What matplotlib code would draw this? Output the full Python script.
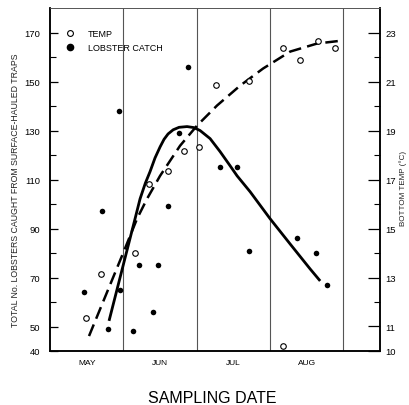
import matplotlib
matplotlib.use("Agg")
import matplotlib.pyplot as plt
from matplotlib.lines import Line2D

plt.rcParams['font.family'] = ['Liberation Sans', 'DejaVu Sans']

# x positions in months from start of May (0 = May 1)
catch_x = [0.464, 0.709, 0.791, 0.941, 0.955, 1.132, 1.214, 1.473, 1.405, 1.610,
           1.760, 1.883, 2.319, 2.551, 2.715, 3.370, 3.629, 3.779]
catch_y = [64, 97, 49, 138, 65, 48, 75, 75, 56, 99,
           129, 156, 115, 115, 81, 86, 80, 67]

temp_x = [0.491, 0.696, 1.160, 1.351, 1.610, 1.828, 2.033, 2.265, 2.715,
          3.179, 3.411, 3.656, 3.888, 3.179]
temp_y = [11.35, 13.15, 14.0, 16.83, 17.36, 18.18, 18.34, 20.87, 21.04,
          22.35, 21.86, 22.67, 22.35, 10.2]

# fitted curves
catch_fit_x = [0.805, 1.010, 1.160, 1.228, 1.300, 1.364, 1.432, 1.501, 1.555, 1.610,
               1.680, 1.760, 1.869, 1.960, 2.046, 2.183, 2.319, 2.456, 2.551, 2.729,
               3.001, 3.274, 3.547, 3.684]
catch_fit_y = [52.3, 76.4, 94.0, 102.1, 108.5, 113.2, 118.8, 123.3, 126.4, 128.6,
               130.3, 131.3, 131.6, 131.2, 130.0, 126.7, 121.4, 115.6, 111.5, 105.0,
               94.0, 83.7, 73.5, 68.6]

temp_fit_x = [0.532, 1.010, 1.187, 1.323, 1.501, 1.774, 2.005, 2.278, 2.592,
              2.906, 3.274, 3.643, 3.984]
temp_fit_y = [10.61, 14.09, 15.40, 16.21, 17.15, 18.38, 19.20, 20.02, 20.83,
              21.53, 22.22, 22.55, 22.67]

months = ["MAY", "JUN", "JUL", "AUG"]
month_pos = [0.5, 1.5, 2.5, 3.5]
month_bounds = [1, 2, 3, 4]

left_major = [40, 50, 70, 90, 110, 130, 150, 170]
left_minor = [60, 80, 100, 120, 140, 160]
right_major = [10, 11, 13, 15, 17, 19, 21, 23]
right_minor = [12, 14, 16, 18, 20, 22]

fig = plt.figure(figsize=(4.10, 4.06), dpi=100)
ax = fig.add_axes([50/410, 54/406, 330/410, 343/406])
ax2 = ax.twinx()

ax.set_xlim(0, 4.5)
ax.set_ylim(40, 180)
ax2.set_ylim(10, 24)

for b in month_bounds:
    ax.axvline(b, color='#555555', lw=0.8, zorder=1)

ax.plot(catch_fit_x, catch_fit_y, color='black', lw=2.0, solid_capstyle='butt',
        solid_joinstyle='round', zorder=3)
ax2.plot(temp_fit_x, temp_fit_y, color='black', lw=1.8, dashes=(5, 2.5), zorder=3)

ax.scatter(catch_x, catch_y, s=16, color='black', zorder=4, linewidths=0)
ax2.scatter(temp_x, temp_y, s=16, facecolor='white', edgecolor='black', linewidths=0.8, zorder=4)

ax.set_xticks(month_pos)
ax.set_xticklabels(months, fontsize=6)
ax.tick_params(axis='x', length=0, pad=6)

ax.set_yticks(left_major)
ax.set_yticks(left_minor, minor=True)
ax.set_yticklabels([str(v) for v in left_major], fontsize=6.8)
ax.tick_params(axis='y', which='major', direction='in', length=6, width=0.9, pad=7)
ax.tick_params(axis='y', which='minor', direction='in', length=4, width=0.8)

ax2.set_yticks(right_major)
ax2.set_yticks(right_minor, minor=True)
ax2.set_yticklabels([str(v) for v in right_major], fontsize=6.8)
ax2.tick_params(axis='y', which='major', direction='in', length=9, width=0.9, pad=4)
ax2.tick_params(axis='y', which='minor', direction='in', length=4, width=0.8)

for a in (ax, ax2):
    for s in ('left', 'right', 'bottom'):
        a.spines[s].set_linewidth(1.1)
    a.spines['top'].set_linewidth(0.6)
    a.spines['top'].set_color('#555555')

fig.text(16/410, 1 - 190/406, "TOTAL No. LOBSTERS CAUGHT FROM SURFACE-HAULED TRAPS",
         rotation=90, fontsize=6.3, ha='center', va='center', color='#222222')
fig.text(403/410, 1 - 188/406, "BOTTOM TEMP (°C)", rotation=90, fontsize=5.8,
         ha='center', va='center', color='#222222')
fig.text(212/410, 1 - 399/406, "SAMPLING DATE", fontsize=11.5, ha='center', va='center')

handles = [
    Line2D([], [], marker='o', linestyle='none', markersize=4.2, markerfacecolor='white',
           markeredgecolor='black', markeredgewidth=0.8, label='TEMP'),
    Line2D([], [], marker='o', linestyle='none', markersize=4.5, markerfacecolor='black',
           markeredgecolor='black', label='LOBSTER CATCH'),
]
ax2.legend(handles=handles, loc='upper left', bbox_to_anchor=(0.033, 0.948),
           frameon=False, fontsize=6.5, handletextpad=1.4, labelspacing=0.5,
           handlelength=1.2, borderaxespad=0)

fig.savefig("out.png", dpi=100)
